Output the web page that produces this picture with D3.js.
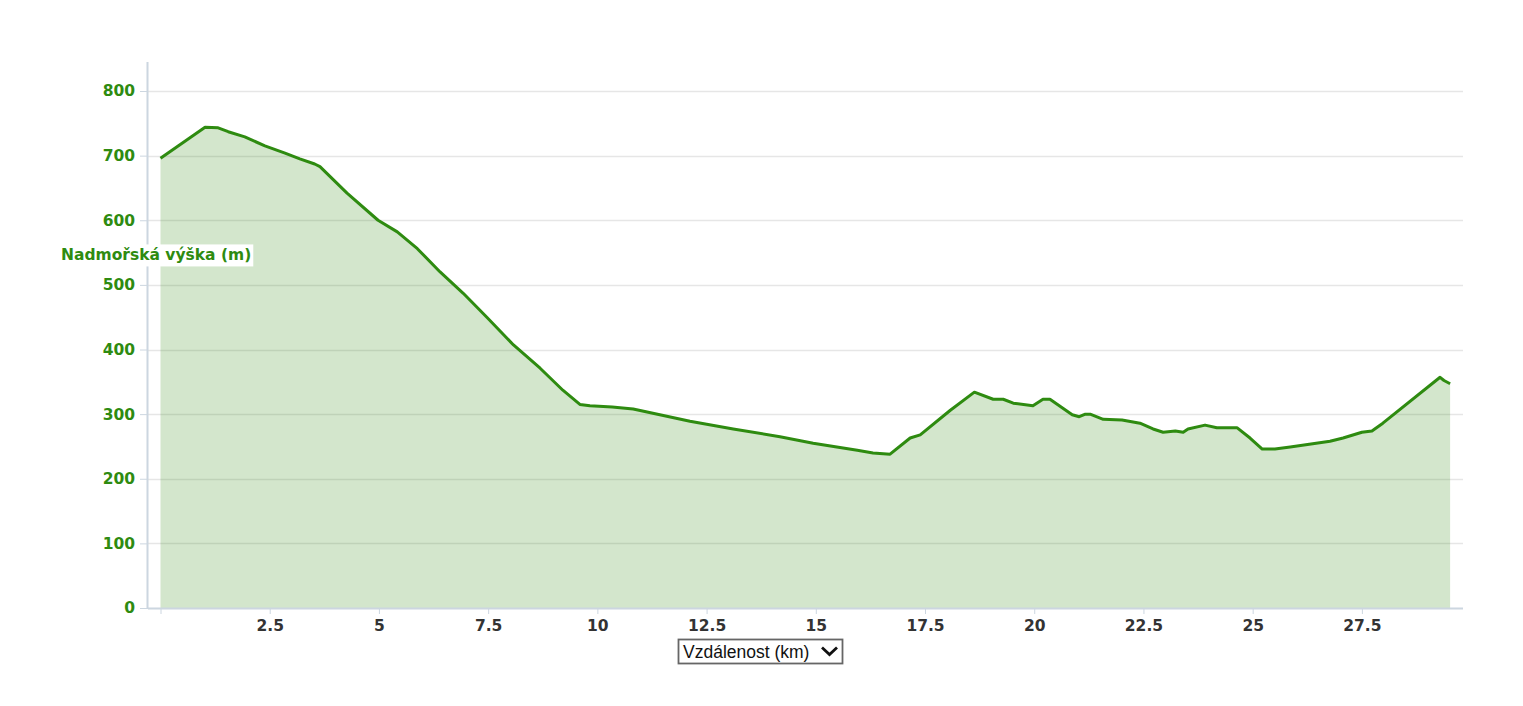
<!DOCTYPE html>
<html>
<head>
<meta charset="utf-8">
<script src="https://cdn.jsdelivr.net/npm/d3@7"></script>
<style>
  html, body { margin: 0; padding: 0; background: #fff; }
  svg { display: block; }
</style>
</head>
<body>
<div id="chart"></div>
<script>
// elevation profile – distance (km) vs altitude (m)
const distanceKm = [0, 1.02, 1.32, 1.55, 1.93, 2.39, 2.85, 3.19, 3.53, 3.65, 4.27, 4.98, 5.42, 5.88,
  6.40, 6.93, 7.47, 8.08, 8.69, 9.21, 9.60, 9.83, 10.34, 10.82, 12.12, 13.11, 14.18, 14.94, 15.95,
  16.31, 16.70, 17.16, 17.39, 18.08, 18.63, 19.06, 19.29, 19.52, 19.97, 20.20,
  20.36, 20.87, 21.03, 21.17, 21.28, 21.58, 22.01, 22.42, 22.72, 22.95, 23.23, 23.41, 23.52, 23.91, 24.18,
  24.64, 24.94, 25.22, 25.51, 25.86, 26.77, 27.07, 27.50, 27.73, 27.98, 29.29, 29.38, 29.52];
const elevationM = [696, 744, 743, 737, 729, 715, 704, 695, 687, 683, 642, 600, 582, 556,
  520, 487, 450, 407, 371, 337, 315, 313, 311, 308, 289, 277, 265, 255, 244,
  240, 238, 263, 268, 306, 334, 323, 323, 317, 313, 323,
  323, 299, 296, 300, 300, 292, 291, 286, 277, 272, 274, 272, 277, 283, 279,
  279, 263, 246, 246, 249, 258, 263, 272, 274, 286, 357, 352, 347];
const xTicks = [0, 2.5, 5, 7.5, 10, 12.5, 15, 17.5, 20, 22.5, 25, 27.5];
const yTicks = [0, 100, 200, 300, 400, 500, 600, 700, 800];
const yTitle = 'Nadmořská výška (m)';
const xTitle = 'Vzdálenost (km)';

const width = 1523, height = 706;
const green = '#2e8b10';
const labelFont = 'bold 15.5px "DejaVu Sans", Verdana, sans-serif';
const points = distanceKm.map((d, i) => ({ d, e: elevationM[i] }));

const svg = d3.select('#chart').append('svg')
  .attr('width', width)
  .attr('height', height);

const x = d3.scaleLinear().domain([0, 29.54]).range([160.5, 1451]);
const y = d3.scaleLinear().domain([0, 800]).range([608, 91]);

// grid
svg.append('g')
  .selectAll('line')
  .data(yTicks.filter(t => t > 0))
  .enter().append('line')
    .attr('x1', 148).attr('x2', 1463)
    .attr('y1', d => Math.round(y(d)) + 0.5).attr('y2', d => Math.round(y(d)) + 0.5)
    .attr('stroke', '#e6e6e6')
    .attr('stroke-width', 1.5);

// area + line
const area = d3.area().x(p => x(p.d)).y0(y(0)).y1(p => y(p.e));
const line = d3.line().x(p => x(p.d)).y(p => y(p.e));

svg.append('path')
  .datum(points)
  .attr('d', area)
  .attr('fill', green)
  .attr('fill-opacity', 0.21);

svg.append('path')
  .datum(points)
  .attr('d', line)
  .attr('fill', 'none')
  .attr('stroke', green)
  .attr('stroke-width', 3)
  .attr('stroke-linejoin', 'round');

// axes
const yAxis = svg.append('g')
  .attr('transform', 'translate(148,0)')
  .call(d3.axisLeft(y).tickValues(yTicks).tickSize(8).tickPadding(5));
yAxis.select('.domain').attr('d', `M-0.5,62V608.5`).attr('stroke', '#ccd6e0').attr('stroke-width', 2);
yAxis.selectAll('.tick line').attr('stroke', '#ccd6e0');
yAxis.selectAll('.tick text')
  .attr('fill', green)
  .style('font', labelFont);

const xAxis = svg.append('g')
  .attr('transform', 'translate(0,608)')
  .call(d3.axisBottom(x).tickValues(xTicks).tickSize(6).tickPadding(6)
    .tickFormat(d => d === 0 ? '' : d3.format('~g')(d)));
xAxis.select('.domain').attr('d', 'M148,0.5H1463').attr('stroke', '#ccd6e0').attr('stroke-width', 2);
xAxis.selectAll('.tick line').attr('stroke', '#ccd6e0');
xAxis.selectAll('.tick text')
  .attr('fill', '#333')
  .style('font', labelFont);

// y title with white box
const yt = svg.append('g').attr('transform', 'translate(61,255)');
const ytText = yt.append('text')
  .attr('dy', '0.35em')
  .attr('fill', green)
  .style('font', labelFont)
  .text(yTitle);
const bb = ytText.node().getBBox();
yt.insert('rect', 'text')
  .attr('x', bb.x - 2).attr('y', bb.y - 2)
  .attr('width', bb.width + 4).attr('height', bb.height + 4)
  .attr('fill', '#fff');

// x title as a dropdown-like box
const xt = svg.append('g').attr('transform', 'translate(678,639)');
xt.append('rect')
  .attr('x', 0.5).attr('y', 0.5)
  .attr('width', 164).attr('height', 24)
  .attr('fill', '#fff')
  .attr('stroke', '#666')
  .attr('stroke-width', 1.8);
xt.append('text')
  .attr('x', 5).attr('y', 13).attr('dy', '0.35em')
  .attr('fill', '#111')
  .style('font', '17.5px "Liberation Sans", Arial, sans-serif')
  .text(xTitle);
xt.append('path')
  .attr('d', 'M144,8.5L151.5,15.5L159,8.5')
  .attr('fill', 'none')
  .attr('stroke', '#111')
  .attr('stroke-width', 2.8);
</script>
</body>
</html>
